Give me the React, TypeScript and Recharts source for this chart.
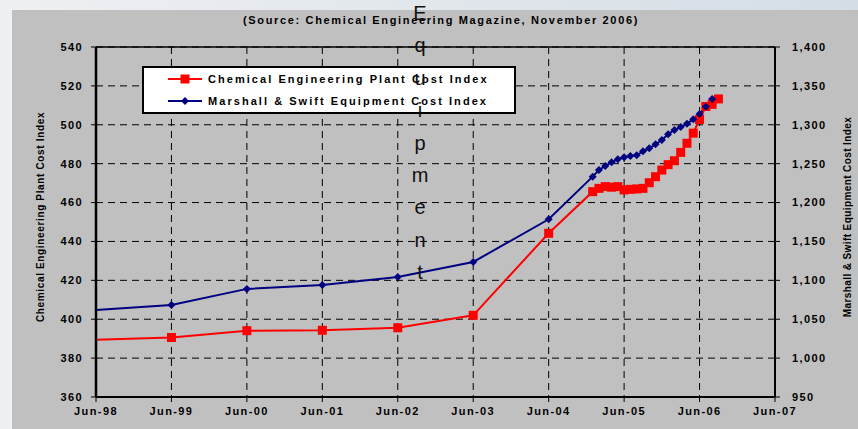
import React from "react";
import {
  ComposedChart,
  Line,
  XAxis,
  YAxis,
  CartesianGrid,
  ReferenceLine,
} from "recharts";

// observation dates (yearly until mid-2004, monthly afterwards)
const periods = [
  "1998-06", "1999-06", "2000-06", "2001-06", "2002-06", "2003-06", "2004-06",
  "2005-01", "2005-02", "2005-03", "2005-04", "2005-05", "2005-06",
  "2005-07", "2005-08", "2005-09", "2005-10", "2005-11", "2005-12",
  "2006-01", "2006-02", "2006-03", "2006-04", "2006-05", "2006-06",
  "2006-07", "2006-08", "2006-09",
];

// Chemical Engineering Plant Cost Index (left axis)
const cepci = [
  389.5, 390.6, 394.1, 394.3, 395.6, 402.0, 444.2,
  465.6, 467.3, 468.2, 467.9, 468.2, 466.5,
  466.8, 467.0, 467.3, 470.2, 473.3, 476.7,
  479.5, 481.5, 485.8, 490.5, 495.7, 502.7,
  509.4, 510.5, 513.3,
];

// Marshall & Swift Equipment Cost Index (right axis)
const msIndex: (number | null)[] = [
  1061.9, 1068.3, 1089.0, 1093.9, 1104.2, 1123.6, 1178.5,
  1233.3, 1241.9, 1247.0, 1251.7, 1255.6, 1258.2,
  1259.9, 1260.8, 1265.9, 1269.8, 1274.9, 1280.4,
  1287.8, 1293.3, 1297.1, 1301.4, 1307.0, 1313.9,
  1323.3, 1333.1, null,
];

const xTickLabels = [
  "Jun-98", "Jun-99", "Jun-00", "Jun-01", "Jun-02",
  "Jun-03", "Jun-04", "Jun-05", "Jun-06", "Jun-07",
];
const leftTicks = [360, 380, 400, 420, 440, 460, 480, 500, 520, 540];
const rightTicks = [950, 1000, 1050, 1100, 1150, 1200, 1250, 1300, 1350, 1400];

const sourceTitle = "(Source: Chemical Engineering Magazine, November 2006)";
const strayTitle = "Equipment";
const leftLabel = "Chemical Engineering Plant Cost Index";
const rightLabel = "Marshall & Swift Equipment Cost Index";
const cepciName = "Chemical Engineering Plant Cost Index";
const msName = "Marshall & Swift Equipment Cost Index";

const RED = "#FF0000";
const NAVY = "#000080";
const FONT = "'Liberation Sans', Arial, Helvetica, sans-serif";

// months elapsed since Jun-98
const monthsFromStart = (p: string) => {
  const [y, m] = p.split("-").map(Number);
  return (y - 1998) * 12 + (m - 6);
};

const data = periods.map((p, i) => ({
  t: monthsFromStart(p),
  cepci: cepci[i],
  ms: msIndex[i],
}));

const tickStyle = {
  fontFamily: FONT,
  fontSize: 11,
  fontWeight: 700,
  fill: "#000",
  letterSpacing: 1.4,
};

// first point sits on the axis and shows no marker in the original
const SquareDot = (props: any) => {
  const { cx, cy, index } = props;
  if (cx == null || cy == null || index === 0) return <g key={`s-${index}`} />;
  return (
    <rect key={`s-${index}`} x={cx - 4.5} y={cy - 4.5} width={9} height={9} fill={RED} />
  );
};

const DiamondDot = (props: any) => {
  const { cx, cy, index, payload } = props;
  if (cx == null || cy == null || index === 0 || payload?.ms == null)
    return <g key={`d-${index}`} />;
  return (
    <polygon
      key={`d-${index}`}
      points={`${cx},${cy - 4} ${cx + 4},${cy} ${cx},${cy + 4} ${cx - 4},${cy}`}
      fill={NAVY}
    />
  );
};

const rotatedLabel = (cx: number, cy: number, spacing: number): React.CSSProperties => ({
  position: "absolute",
  left: cx - 170,
  top: cy - 7,
  width: 340,
  height: 14,
  lineHeight: "14px",
  textAlign: "center",
  transform: "rotate(-90deg)",
  whiteSpace: "nowrap",
  fontSize: 10,
  fontWeight: 700,
  letterSpacing: spacing,
  color: "#000",
});

export default function App() {
  return (
    <div
      style={{
        position: "absolute",
        left: 0,
        top: 0,
        width: 858,
        height: 429,
        overflow: "hidden",
        background: "linear-gradient(90deg, #eef0f3 0%, #dfe5ea 60%, #d4dde6 100%)",
        fontFamily: FONT,
      }}
    >
      <div
        style={{
          position: "absolute",
          left: 12,
          top: 10,
          width: 846,
          height: 419,
          background: "#C0C0C0",
        }}
      />
      <div style={{ position: "absolute", left: 0, top: 0 }}>
        <ComposedChart
          width={858}
          height={429}
          data={data}
          margin={{ top: 47, right: 23, bottom: 7, left: 36 }}
        >
          <CartesianGrid
            yAxisId="left"
            stroke="#000"
            strokeDasharray="7 5"
            strokeWidth={1}
          />
          <XAxis
            type="number"
            dataKey="t"
            domain={[0, 108]}
            ticks={xTickLabels.map((_, i) => i * 12)}
            tickFormatter={(v) => xTickLabels[Math.round(v / 12)]}
            tick={tickStyle}
            axisLine={{ stroke: "#000", strokeWidth: 2 }}
            tickLine={{ stroke: "#000" }}
            tickSize={5}
            tickMargin={5}
            height={25}
            interval={0}
          />
          <YAxis
            yAxisId="left"
            domain={[360, 540]}
            ticks={leftTicks}
            tick={tickStyle}
            axisLine={{ stroke: "#000", strokeWidth: 2.5 }}
            tickLine={{ stroke: "#000" }}
            tickSize={5}
            tickMargin={8}
            width={60}
            interval={0}
          />
          <YAxis
            yAxisId="right"
            orientation="right"
            domain={[950, 1400]}
            ticks={rightTicks}
            tickFormatter={(v) => Number(v).toLocaleString("en-US")}
            tick={tickStyle}
            axisLine={{ stroke: "#000", strokeWidth: 2 }}
            tickLine={{ stroke: "#000" }}
            tickSize={5}
            tickMargin={12}
            width={60}
            interval={0}
          />
          <ReferenceLine yAxisId="left" y={540} stroke="#000" strokeWidth={1.5} />
          <Line
            yAxisId="left"
            type="linear"
            dataKey="cepci"
            name={cepciName}
            stroke={RED}
            strokeWidth={2}
            dot={SquareDot}
            isAnimationActive={false}
          />
          <Line
            yAxisId="right"
            type="linear"
            dataKey="ms"
            name={msName}
            stroke={NAVY}
            strokeWidth={2}
            dot={DiamondDot}
            isAnimationActive={false}
          />
        </ComposedChart>
      </div>

      {/* title */}
      <div
        style={{
          position: "absolute",
          left: 141,
          top: 13,
          width: 600,
          height: 14,
          lineHeight: "14px",
          textAlign: "center",
          whiteSpace: "nowrap",
          fontSize: 11,
          fontWeight: 700,
          letterSpacing: 1.65,
          color: "#000",
        }}
      >
        {sourceTitle}
      </div>

      {/* axis titles */}
      <div style={rotatedLabel(41, 217, 0.65)}>{leftLabel}</div>
      <div style={rotatedLabel(848, 217, 0.4)}>{rightLabel}</div>

      {/* legend */}
      <div
        style={{
          position: "absolute",
          left: 142,
          top: 66,
          width: 370,
          height: 44,
          background: "#fff",
          border: "2px solid #000",
        }}
      >
        {[
          { name: cepciName, color: RED, square: true, y: 11 },
          { name: msName, color: NAVY, square: false, y: 33 },
        ].map((row) => (
          <div key={row.name}>
            <svg
              width={36}
              height={12}
              style={{ position: "absolute", left: 24, top: row.y - 6 }}
            >
              <line x1={0} y1={6} x2={34} y2={6} stroke={row.color} strokeWidth={2} />
              {row.square ? (
                <rect x={12.5} y={1.5} width={9} height={9} fill={row.color} />
              ) : (
                <polygon points="17,2 21,6 17,10 13,6" fill={row.color} />
              )}
            </svg>
            <div
              style={{
                position: "absolute",
                left: 64,
                top: row.y - 7,
                height: 14,
                lineHeight: "14px",
                whiteSpace: "nowrap",
                fontSize: 11,
                fontWeight: 700,
                letterSpacing: 2.05,
                color: "#000",
              }}
            >
              {row.name}
            </div>
          </div>
        ))}
      </div>

      {/* stray vertical title letters */}
      {strayTitle.split("").map((ch, i) => (
        <div
          key={i}
          style={{
            position: "absolute",
            left: 405,
            top: 13 + i * 32.4 - 12,
            width: 30,
            height: 24,
            lineHeight: "24px",
            textAlign: "center",
            fontSize: 20,
            color: "#111",
          }}
        >
          {ch}
        </div>
      ))}
    </div>
  );
}
